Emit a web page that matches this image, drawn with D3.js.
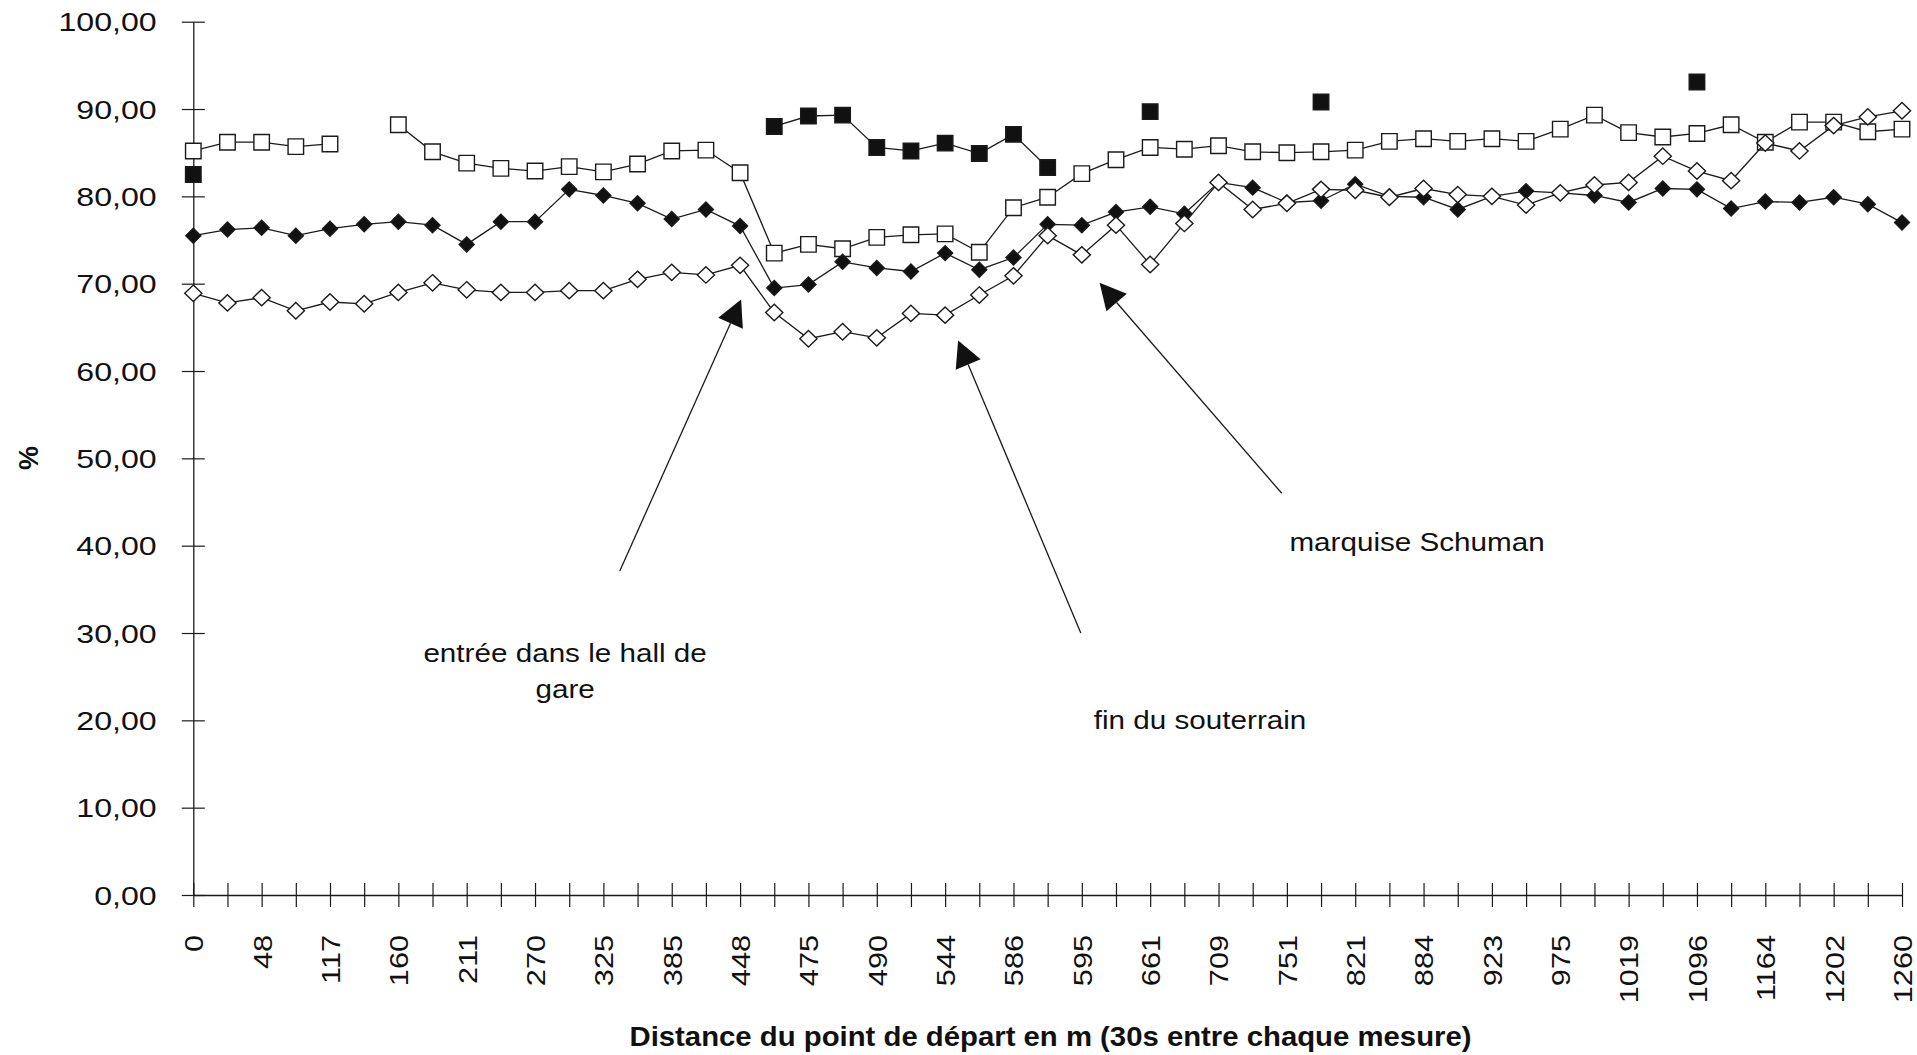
<!DOCTYPE html>
<html>
<head>
<meta charset="utf-8">
<script src="https://cdn.jsdelivr.net/npm/d3@7"></script>
<style>
  html, body { margin: 0; padding: 0; background: #fff; }
  svg { display: block; }
  text { font-family: "Liberation Sans", Arial, Helvetica, sans-serif; fill: #111; }
</style>
</head>
<body>
<svg id="chart" width="1917" height="1055"></svg>
<script>
// ---------------- DATA ----------------
const nCategories = 51;
// labels shown under every other category (index 0, 2, 4, ... 50)
const tickLabels = ["0","48","117","160","211","270","325","385","448","475","490","544","586",
  "595","661","709","751","821","884","923","975","1019","1096","1164","1202","1260"];
const yTicks = [0,10,20,30,40,50,60,70,80,90,100];

// open squares
const openSquares = [85.2,86.2,86.2,85.7,86.0,null,88.2,85.1,83.8,83.2,82.9,83.4,82.8,83.7,85.2,85.3,82.7,
  73.5,74.5,74.0,75.3,75.6,75.7,73.6,78.7,79.9,82.6,84.2,85.6,85.4,85.8,85.1,85.0,85.1,85.3,86.3,86.6,
  86.3,86.6,86.3,87.7,89.3,87.3,86.8,87.2,88.2,86.2,88.5,88.5,87.4,87.7];
// filled squares (sparse)
const filledSquares = [82.5,null,null,null,null,null,null,null,null,null,null,null,null,null,null,null,null,
  88.0,89.2,89.3,85.6,85.2,86.1,84.9,87.1,83.3,null,null,89.7,null,null,null,null,90.8,null,null,null,
  null,null,null,null,null,null,null,93.1,null,null,null,null,null,null];
// filled diamonds
const filledDiamonds = [75.5,76.2,76.4,75.5,76.3,76.8,77.1,76.7,74.5,77.1,77.1,80.8,80.1,79.2,77.4,78.5,76.6,
  69.5,69.9,72.5,71.8,71.4,73.5,71.6,73.0,76.8,76.7,78.2,78.8,78.0,81.6,81.0,79.3,79.5,81.4,80.0,79.9,
  78.5,80.0,80.6,80.4,80.1,79.3,80.9,80.8,78.6,79.4,79.3,79.9,79.1,77.0];
// open diamonds
const openDiamonds = [68.9,67.8,68.4,66.9,67.9,67.7,69.0,70.1,69.3,69.0,69.0,69.2,69.2,70.5,71.3,71.0,72.1,
  66.7,63.7,64.5,63.8,66.6,66.4,68.7,70.9,75.5,73.3,76.7,72.2,76.9,81.6,78.5,79.2,80.8,80.7,79.9,80.9,
  80.2,80.0,79.0,80.4,81.3,81.6,84.6,82.9,81.8,86.1,85.2,88.1,89.1,89.8];

// annotations: [category position, value] in data space
const annotations = [
  { lines: ["entrée dans le hall de", "gare"], tx: 10.88, ty: [26.7, 22.56],
    from: [12.48, 37.1], to: [16.03, 68.2] },
  { lines: ["fin du souterrain"], tx: 29.46, ty: [19.0],
    from: [25.97, 30.0], to: [22.38, 63.5] },
  { lines: ["marquise Schuman"], tx: 35.81, ty: [39.4],
    from: [31.85, 46.0], to: [26.52, 70.1] }
];

const xTitle = "Distance du point de départ en m (30s entre chaque mesure)";
const yTitle = "%";

// ---------------- CHART ----------------
const svg = d3.select("#chart");
const x = d3.scaleLinear().domain([0, nCategories - 1]).range([193.3, 1902]);
const y = d3.scaleLinear().domain([0, 100]).range([895, 21.7]);
const fmt = d => d.toFixed(2).replace(".", ",");
const ink = "#1a1a1a";

// stretch text glyphs along their direction (the original lettering is wide)
function stretch(sel, ratio) {
  sel.each(function () {
    const w = this.getComputedTextLength();
    if (w > 0) d3.select(this).attr("textLength", w * ratio).attr("lengthAdjust", "spacingAndGlyphs");
  });
}

// Y axis
const yAxis = svg.append("g").attr("transform", `translate(${x(0)},0)`)
  .call(d3.axisLeft(y).tickValues(yTicks).tickFormat(fmt).tickSizeInner(11.5).tickSizeOuter(0));
yAxis.select(".domain").attr("stroke", ink).attr("stroke-width", 1.3);
yAxis.selectAll(".tick line").attr("x1", -11.5).attr("x2", 11.5).attr("stroke", ink).attr("stroke-width", 1.2);
yAxis.selectAll(".tick text").attr("x", -36.6).attr("dy", "0.36em")
  .style("font-size", "25.5px").attr("fill", "#111").call(stretch, 1.26);

// X axis
const xAxis = svg.append("g").attr("transform", `translate(0,${y(0)})`)
  .call(d3.axisBottom(x).tickValues(d3.range(nCategories))
    .tickFormat(i => i % 2 === 0 ? tickLabels[i / 2] : "").tickSizeInner(12).tickSizeOuter(0));
xAxis.select(".domain").attr("stroke", ink).attr("stroke-width", 1.3);
xAxis.selectAll(".tick line").attr("y1", -12).attr("y2", 12).attr("stroke", ink).attr("stroke-width", 1.2);
xAxis.selectAll(".tick text")
  .attr("transform", "translate(0,40) rotate(-90)")
  .attr("x", 0).attr("y", 0).attr("dy", "0.36em")
  .attr("text-anchor", "end")
  .style("font-size", "26px").attr("fill", "#111").call(stretch, 1.18);

// Titles
svg.append("text").attr("x", 629.5).attr("y", 1046)
  .attr("textLength", 842).attr("lengthAdjust", "spacingAndGlyphs")
  .style("font-size", "27px").style("font-weight", "bold").text(xTitle);
svg.append("text").attr("transform", "translate(38,458) rotate(-90)")
  .attr("text-anchor", "middle").style("font-size", "27px").style("font-weight", "bold").text(yTitle);

// Series
const plot = svg.append("g");
function toPts(arr) { return arr.map((v, i) => ({ i, v })); }
const line = d3.line().defined(d => d.v != null).x(d => x(d.i)).y(d => y(d.v));

const sqSymbol = d3.symbol().type(d3.symbolSquare).size(15.5 * 15.5);
const diamondPath = (hw, hh) => `M0,${-hh}L${hw},0L0,${hh}L${-hw},0Z`;

function drawSeries(arr, markerPath, fill) {
  const pts = toPts(arr);
  plot.append("path").datum(pts).attr("d", line)
    .attr("fill", "none").attr("stroke", ink).attr("stroke-width", 1.3);
  plot.append("g").selectAll("path").data(pts.filter(d => d.v != null)).join("path")
    .attr("transform", d => `translate(${x(d.i)},${y(d.v)})`)
    .attr("d", markerPath).attr("fill", fill).attr("stroke", ink).attr("stroke-width", 1.4);
}

drawSeries(filledSquares, sqSymbol(), "#111");
drawSeries(openSquares, sqSymbol(), "#fff");
drawSeries(filledDiamonds, diamondPath(7.5, 7.5), "#111");
drawSeries(openDiamonds, diamondPath(8.6, 8.2), "#fff");

// Annotations
const ann = svg.append("g");
const defs = svg.append("defs");
annotations.forEach((a, k) => {
  const x1 = x(a.from[0]), y1 = y(a.from[1]);
  const x2 = x(a.to[0]), y2 = y(a.to[1]);
  const dx = x2 - x1, dy = y2 - y1, L = Math.hypot(dx, dy);
  const ux = dx / L, uy = dy / L;
  const headLen = 26, headHalf = 13.5;
  const bx = x2 - ux * headLen, by = y2 - uy * headLen;
  ann.append("line").attr("x1", x1).attr("y1", y1).attr("x2", bx).attr("y2", by)
    .attr("stroke", ink).attr("stroke-width", 1.3);
  ann.append("path")
    .attr("d", `M${x2},${y2}L${bx - uy * headHalf},${by + ux * headHalf}L${bx + uy * headHalf},${by - ux * headHalf}Z`)
    .attr("fill", "#111");
  a.lines.forEach((t, j) => {
    const txt = ann.append("text").attr("x", x(a.tx)).attr("y", y(a.ty[j]))
      .attr("text-anchor", "middle").style("font-size", "26px").text(t);
    txt.call(stretch, 1.14);
    if (k === 0 && j === 1) {
      // the original text box clips the descender of the last line
      defs.append("clipPath").attr("id", "clipGare").append("rect")
        .attr("x", 0).attr("y", 0).attr("width", 1917).attr("height", y(a.ty[j]) + 10);
      txt.attr("clip-path", "url(#clipGare)");
    }
  });
});
</script>
</body>
</html>
